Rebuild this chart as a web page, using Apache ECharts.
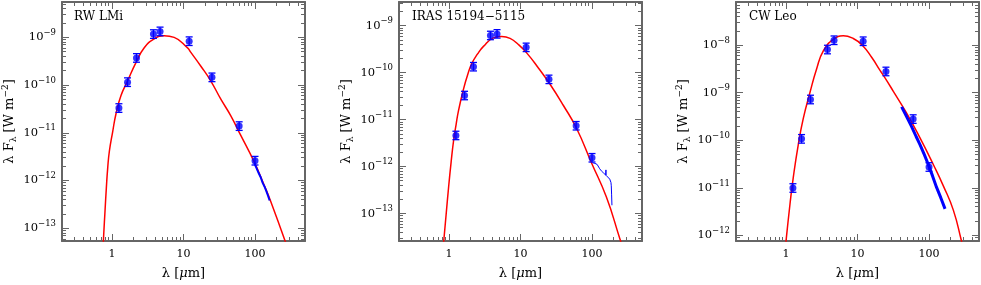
<!DOCTYPE html>
<html>
<head>
<meta charset="utf-8">
<script src="https://cdn.jsdelivr.net/npm/echarts@6/dist/echarts.min.js"></script>
<style>html,body{margin:0;padding:0;background:#fff}#c{width:981px;height:285px}</style>
</head>
<body>
<div id="c"></div>
<script>
// ---------------- data (wavelength in micron, flux lambda*F_lambda in W m^-2) ----------------
const panelTitles = ['RW LMi', 'IRAS 15194\u22125115', 'CW Leo'];
const xRange = [0.2, 500];
const xTickValues = [1, 10, 100];
const xMinorValues = [0.3, 0.4, 0.5, 0.6, 0.7, 0.8, 0.9, 2, 3, 4, 5, 6, 7, 8, 9, 20, 30, 40, 50, 60, 70, 80, 90, 200, 300, 400];
const yRangeRW = [5.4e-14, 5.5e-9];
const yRangeIRAS = [2.6e-14, 3.2e-9];
const yRangeCW = [7.6e-13, 8.1e-8];

const bandWavelengths = [1.25, 1.65, 2.2, 3.8, 4.7, 12, 25, 60, 100];
const bandErrDex = [0.09, 0.09, 0.09, 0.09, 0.09, 0.09, 0.09, 0.09, 0.09];

const rwFlux = [3.3e-11, 1.15e-10, 3.7e-10, 1.17e-9, 1.33e-9, 8.3e-10, 1.45e-10, 1.38e-11, 2.6e-12];
const irasFlux = [4.6e-12, 3.26e-11, 1.34e-10, 6.2e-10, 6.7e-10, 3.46e-10, 7.2e-11, 7.4e-12, 1.54e-12];
const cwFlux = [9.9e-12, 1.07e-10, 7.2e-10, 8.1e-9, 1.27e-8, 1.21e-8, 2.8e-9, 2.79e-10, 2.74e-11];

const rwModelLam = [0.745, 0.757, 0.799, 0.834, 0.871, 0.918, 1.022, 1.138, 1.337, 1.656, 2.163, 2.825, 3.89, 5.36, 7.40, 11.4, 12.6, 17.4, 24.0, 33.1, 45.7, 63.0, 96.6, 133, 165, 290];
const rwModelFlux = [2.5e-14, 5.1e-14, 2.3e-13, 7.0e-13, 1.82e-12, 4.05e-12, 1.05e-11, 2.51e-11, 6.03e-11, 1.23e-10, 2.95e-10, 6.03e-10, 9.33e-10, 1.084e-9, 1.0e-9, 6.0e-10, 4.9e-10, 2.51e-10, 1.23e-10, 5.13e-11, 2.29e-11, 8.91e-12, 2.51e-12, 8.22e-13, 3.72e-13, 3.6e-14];

const irasModelLam = [0.832, 0.912, 0.986, 1.072, 1.159, 1.259, 1.361, 1.596, 1.820, 2.089, 2.512, 3.034, 4.178, 5.47, 7.145, 9.33, 12.19, 17.78, 25.76, 39.8, 60.7, 98.2, 158.9, 243.2, 263];
const irasModelFlux = [2.0e-14, 9.55e-14, 3.55e-13, 1.26e-12, 3.55e-12, 7.94e-12, 1.58e-11, 4.47e-11, 8.91e-11, 1.58e-10, 2.51e-10, 3.63e-10, 5.50e-10, 5.89e-10, 5.37e-10, 3.98e-10, 2.64e-10, 1.26e-10, 5.73e-11, 2.0e-11, 6.55e-12, 1.21e-12, 2.24e-13, 3.02e-14, 2.09e-14];

const cwModelLam = [0.989, 1.0, 1.138, 1.265, 1.486, 1.746, 2.168, 2.679, 3.327, 4.592, 6.324, 8.73, 11.67, 15.85, 20.65, 24.49, 31.70, 48.64, 74.82, 114.8, 158.5, 218.8, 285.8, 295.1];
const cwModelFlux = [5.62e-13, 7.41e-13, 4.57e-12, 1.66e-11, 8.13e-11, 2.88e-10, 1.02e-9, 3.16e-9, 7.59e-9, 1.32e-8, 1.58e-8, 1.38e-8, 1.0e-8, 5.50e-9, 2.95e-9, 2.0e-9, 1.07e-9, 3.72e-10, 1.12e-10, 3.09e-11, 1.10e-11, 3.39e-12, 7.41e-13, 6.03e-13];

const rwSpecLam = [98, 105, 112, 120, 128, 136, 144, 152, 160];
const rwSpecFlux = [2.29e-12, 1.82e-12, 1.45e-12, 1.17e-12, 8.9e-13, 7.4e-13, 6.0e-13, 4.8e-13, 3.8e-13];
const irasSpecLam = [101, 110, 118, 128, 135, 145, 155, 156.5, 157.5, 158.5, 166, 177, 184, 186, 188, 190];
const irasSpecFlux = [1.21e-12, 1.17e-12, 1.11e-12, 9.0e-13, 8.1e-13, 7.3e-13, 6.6e-13, 8.5e-13, 6.5e-13, 6.4e-13, 6.0e-13, 5.4e-13, 4.6e-13, 3.9e-13, 2.5e-13, 1.5e-13];
const cwSpecLam = [41.4, 50, 57.1, 66, 74.8, 86, 97.7, 112, 127.6, 146, 167.5];
const cwSpecFlux = [5.05e-10, 2.88e-10, 1.94e-10, 1.20e-10, 8.1e-11, 5.0e-11, 3.1e-11, 1.78e-11, 1.02e-11, 6.2e-12, 3.6e-12];

// ---------------- chart ----------------
const L = Math.log10;
const FONT = 'DejaVu Serif';
const FRAME = '#666666';
const panels = [
  {title: panelTitles[0], yr: yRangeRW, flux: rwFlux, mLam: rwModelLam, mFlux: rwModelFlux, sLam: rwSpecLam, sFlux: rwSpecFlux, sWidth: 2},
  {title: panelTitles[1], yr: yRangeIRAS, flux: irasFlux, mLam: irasModelLam, mFlux: irasModelFlux, sLam: irasSpecLam, sFlux: irasSpecFlux, sWidth: 1},
  {title: panelTitles[2], yr: yRangeCW, flux: cwFlux, mLam: cwModelLam, mFlux: cwModelFlux, sLam: cwSpecLam, sFlux: cwSpecFlux, sWidth: 3}
];
const grids = [
  {left: 61, top: 2, width: 244, height: 242},
  {left: 399, top: 2, width: 243, height: 242},
  {left: 736, top: 2, width: 243, height: 242}
];

function yMajor(r) {
  const lo = L(r[0]), hi = L(r[1]), out = [];
  for (let n = Math.ceil(lo); n <= Math.floor(hi); n++) out.push(n);
  return out;
}
function yMinor(r) {
  const lo = L(r[0]), hi = L(r[1]), out = [];
  for (let n = Math.floor(lo); n <= Math.ceil(hi); n++) {
    for (let k = 2; k <= 9; k++) {
      const v = n + L(k);
      if (v > lo + 1e-6 && v < hi - 1e-6) out.push(v);
    }
  }
  return out;
}

const xAxes = [], yAxes = [], series = [], titles = [];
const tickStyle = {color: FRAME, width: 1};
const lineStyleFrame = {color: FRAME, width: 2};
const MAJ = 7, MIN = 4;

panels.forEach((p, i) => {
  const xmaj = xTickValues.map(L), xmin = xMinorValues.map(L);
  const ymaj = yMajor(p.yr), ymin = yMinor(p.yr);
  const xb = {type: 'value', gridIndex: i, min: L(xRange[0]), max: L(xRange[1]), splitLine: {show: false},
    axisLine: {show: false, onZero: false}, axisTick: {show: false}, axisLabel: {show: false}, silent: true};
  const yb = {type: 'value', gridIndex: i, min: L(p.yr[0]), max: L(p.yr[1]), splitLine: {show: false},
    axisLine: {show: false, onZero: false}, axisTick: {show: false}, axisLabel: {show: false}, silent: true};

  xAxes.push(Object.assign({}, xb, {
    position: 'bottom',
    axisLine: {show: true, onZero: false, lineStyle: lineStyleFrame},
    axisTick: {show: true, inside: true, length: MAJ, customValues: xmaj, lineStyle: tickStyle},
    axisLabel: {show: true, customValues: xmaj, margin: 8, color: '#000', fontFamily: FONT, fontSize: 11,
      formatter: v => String(Math.round(Math.pow(10, v)))},
    name: '\u03bb [{it|\u03bc}m]', nameLocation: 'middle', nameGap: 26,
    nameTextStyle: {color: '#000', fontFamily: FONT, fontSize: 13,
      rich: {it: {fontFamily: FONT, fontSize: 13, fontStyle: 'italic', color: '#000'}}}
  }));
  xAxes.push(Object.assign({}, xb, {position: 'bottom',
    axisTick: {show: true, inside: true, length: MIN, customValues: xmin, lineStyle: tickStyle}}));
  xAxes.push(Object.assign({}, xb, {position: 'top',
    axisLine: {show: true, onZero: false, lineStyle: lineStyleFrame},
    axisTick: {show: true, inside: true, length: MAJ, customValues: xmaj, lineStyle: tickStyle}}));
  xAxes.push(Object.assign({}, xb, {position: 'top',
    axisTick: {show: true, inside: true, length: MIN, customValues: xmin, lineStyle: tickStyle}}));

  yAxes.push(Object.assign({}, yb, {
    position: 'left',
    axisLine: {show: true, onZero: false, lineStyle: lineStyleFrame},
    axisTick: {show: true, inside: true, length: MAJ, customValues: ymaj, lineStyle: tickStyle},
    axisLabel: {show: true, customValues: ymaj, margin: 6, color: '#000', fontFamily: FONT,
      formatter: v => '{b|10}{s|\u2212' + Math.round(-v) + '}',
      rich: {b: {fontFamily: FONT, fontSize: 11.5, color: '#000'},
             s: {fontFamily: FONT, fontSize: 8.5, color: '#000', padding: [0, 0, 9, 0]}}},
    name: '{t|\u03bb F}{sub|\u03bb}{t| [W m}{sup|\u22122}{t|]}', nameLocation: 'middle', nameGap: 43,
    nameTextStyle: {color: '#000', fontFamily: FONT, fontSize: 13,
      rich: {t: {fontFamily: FONT, fontSize: 13, color: '#000'},
             sub: {fontFamily: FONT, fontSize: 9, color: '#000', padding: [7, 0, 0, 0]},
             sup: {fontFamily: FONT, fontSize: 9, color: '#000', padding: [0, 0, 9, 0]}}}
  }));
  yAxes.push(Object.assign({}, yb, {position: 'left',
    axisTick: {show: true, inside: true, length: MIN, customValues: ymin, lineStyle: tickStyle}}));
  yAxes.push(Object.assign({}, yb, {position: 'right',
    axisLine: {show: true, onZero: false, lineStyle: lineStyleFrame},
    axisTick: {show: true, inside: true, length: MAJ, customValues: ymaj, lineStyle: tickStyle}}));
  yAxes.push(Object.assign({}, yb, {position: 'right',
    axisTick: {show: true, inside: true, length: MIN, customValues: ymin, lineStyle: tickStyle}}));

  // each of the four series of a panel is bound to its own x/y axis pair (all pairs share the same extent)
  const a = 4 * i;
  series.push({
    type: 'line', xAxisIndex: a, yAxisIndex: a, silent: true,
    data: p.mLam.map((l, k) => [L(l), L(p.mFlux[k])]),
    showSymbol: false, smooth: 0.5, clip: true,
    lineStyle: {color: '#ff0000', width: 1.5}, z: 3
  });
  series.push({
    type: 'line', xAxisIndex: a + 1, yAxisIndex: a + 1, silent: true,
    data: p.sLam.map((l, k) => [L(l), L(p.sFlux[k])]),
    showSymbol: false, clip: true,
    lineStyle: {color: '#0000ff', width: p.sWidth}, z: 4
  });
  series.push({
    type: 'custom', xAxisIndex: a + 2, yAxisIndex: a + 2, silent: true, clip: true,
    data: bandWavelengths.map((l, k) => [L(l), L(p.flux[k]) - bandErrDex[k], L(p.flux[k]) + bandErrDex[k]]),
    encode: {x: 0, y: [1, 2]},
    renderItem: (params, api) => {
      const x = api.value(0);
      const lo = api.coord([x, api.value(1)]);
      const hi = api.coord([x, api.value(2)]);
      const hw = 3.5;
      const st = {stroke: '#0000ff', lineWidth: 1.3};
      return {type: 'group', children: [
        {type: 'line', shape: {x1: lo[0], y1: lo[1], x2: hi[0], y2: hi[1]}, style: st},
        {type: 'line', shape: {x1: lo[0] - hw, y1: lo[1], x2: lo[0] + hw, y2: lo[1]}, style: st},
        {type: 'line', shape: {x1: hi[0] - hw, y1: hi[1], x2: hi[0] + hw, y2: hi[1]}, style: st}
      ]};
    },
    z: 5
  });
  series.push({
    type: 'scatter', xAxisIndex: a + 3, yAxisIndex: a + 3, silent: true,
    data: bandWavelengths.map((l, k) => [L(l), L(p.flux[k])]),
    symbol: 'circle', symbolSize: 7, itemStyle: {color: '#0000ff'}, z: 6
  });
  titles.push({text: p.title, left: grids[i].left + 13, top: 11, padding: 0,
    textStyle: {fontFamily: FONT, fontSize: 12, fontWeight: 'normal', color: '#000'}});
});

const chart = echarts.init(document.getElementById('c'), null, {renderer: 'canvas'});
chart.setOption({
  animation: false,
  backgroundColor: '#fff',
  title: titles,
  grid: grids,
  xAxis: xAxes,
  yAxis: yAxes,
  series: series
});
</script>
</body>
</html>
